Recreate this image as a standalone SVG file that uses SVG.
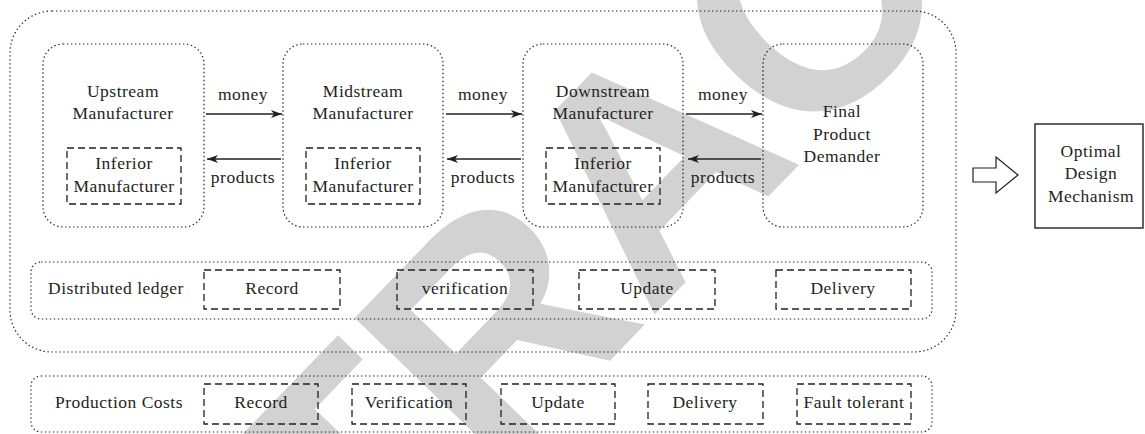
<svg xmlns="http://www.w3.org/2000/svg" width="1145" height="434" viewBox="0 0 1145 434">
<style>
text.t{font-family:'Liberation Serif','Times New Roman',serif;font-size:17.5px;fill:#231f20;text-anchor:middle;letter-spacing:0.5px}
.dot{fill:none;stroke:#231f20;stroke-width:1.2;stroke-dasharray:1.4 2.6}
.dash{fill:none;stroke:#231f20;stroke-width:1.3;stroke-dasharray:7 4}
.solid{fill:none;stroke:#231f20;stroke-width:1.4}
text.wm{font-family:'Liberation Sans',Arial,sans-serif;font-weight:bold;font-size:310px;fill:#d2d2d2}
</style>
<defs>
<marker id="ah" viewBox="0 0 11 8" refX="11" refY="4" markerWidth="11" markerHeight="8" markerUnits="userSpaceOnUse" orient="auto">
<path d="M0,0 L11,4 L0,8 L3,4 z" fill="#231f20"/>
</marker>
</defs>
<rect width="1145" height="434" fill="#ffffff"/>
<g id="watermark">
<text class="wm" transform="translate(63,927) rotate(-46)" x="0" y="0">RETRACTED</text>
</g>
<rect id="outer" class="dot" x="10" y="11" width="946" height="341" rx="42"/>
<g id="upstream">
<rect class="dot" x="43" y="44" width="161" height="183" rx="20"/>
<text class="t" x="123" y="97">Upstream</text>
<text class="t" x="123" y="119">Manufacturer</text>
<rect class="dash" x="67" y="148" width="114" height="56"/>
<text class="t" x="124" y="169">Inferior</text>
<text class="t" x="124" y="192">Manufacturer</text>
</g>
<g id="midstream">
<rect class="dot" x="283" y="44" width="160" height="183" rx="20"/>
<text class="t" x="363" y="97">Midstream</text>
<text class="t" x="363" y="119">Manufacturer</text>
<rect class="dash" x="306" y="148" width="114" height="56"/>
<text class="t" x="363" y="169">Inferior</text>
<text class="t" x="363" y="192">Manufacturer</text>
</g>
<g id="downstream">
<rect class="dot" x="523" y="44" width="160" height="183" rx="20"/>
<text class="t" x="603" y="97">Downstream</text>
<text class="t" x="603" y="119">Manufacturer</text>
<rect class="dash" x="546" y="148" width="114" height="56"/>
<text class="t" x="603" y="169">Inferior</text>
<text class="t" x="603" y="192">Manufacturer</text>
</g>
<g id="final">
<rect class="dot" x="763" y="44" width="160" height="183" rx="20"/>
<text class="t" x="842" y="117">Final</text>
<text class="t" x="842" y="140">Product</text>
<text class="t" x="842" y="162">Demander</text>
</g>
<g id="ledger">
<rect class="dot" x="31" y="262" width="901" height="57" rx="10"/>
<text class="t" x="116" y="294">Distributed ledger</text>
<rect class="dash" x="204" y="270" width="136" height="39"/>
<text class="t" x="272" y="294">Record</text>
<rect class="dash" x="397" y="270" width="136" height="39"/>
<text class="t" x="465" y="294">verification</text>
<rect class="dash" x="579" y="270" width="136" height="39"/>
<text class="t" x="647" y="294">Update</text>
<rect class="dash" x="776" y="270" width="135" height="39"/>
<text class="t" x="843" y="294">Delivery</text>
</g>
<g id="costs">
<rect class="dot" x="31" y="376" width="901" height="56" rx="10"/>
<text class="t" x="119" y="408">Production Costs</text>
<rect class="dash" x="204" y="384" width="114" height="40"/>
<text class="t" x="261" y="408">Record</text>
<rect class="dash" x="352" y="384" width="114" height="40"/>
<text class="t" x="409" y="408">Verification</text>
<rect class="dash" x="501" y="384" width="114" height="40"/>
<text class="t" x="558" y="408">Update</text>
<rect class="dash" x="648" y="384" width="115" height="40"/>
<text class="t" x="705" y="408">Delivery</text>
<rect class="dash" x="797" y="384" width="114" height="40"/>
<text class="t" x="854" y="408">Fault tolerant</text>
</g>
<g id="optimal">
<rect class="solid" x="1035" y="124" width="108" height="104"/>
<text class="t" x="1091" y="157">Optimal</text>
<text class="t" x="1091" y="179">Design</text>
<text class="t" x="1091" y="202">Mechanism</text>
</g>
<g id="connectors">
<line class="solid" x1="206" y1="114" x2="282" y2="114" marker-end="url(#ah)"/>
<line class="solid" x1="446" y1="114" x2="522" y2="114" marker-end="url(#ah)"/>
<line class="solid" x1="686" y1="114" x2="762" y2="114" marker-end="url(#ah)"/>
<line class="solid" x1="281" y1="159" x2="207" y2="159" marker-end="url(#ah)"/>
<line class="solid" x1="521" y1="159" x2="447" y2="159" marker-end="url(#ah)"/>
<line class="solid" x1="761" y1="159" x2="688" y2="159" marker-end="url(#ah)"/>
<text class="t" x="243" y="100">money</text>
<text class="t" x="483" y="100">money</text>
<text class="t" x="723" y="100">money</text>
<text class="t" x="243" y="183">products</text>
<text class="t" x="483" y="183">products</text>
<text class="t" x="723" y="183">products</text>
<polygon points="973,168 996,168 996,157 1018,175 996,193 996,182 973,182" fill="#ffffff" stroke="#231f20" stroke-width="1.2"/>
</g>
</svg>
